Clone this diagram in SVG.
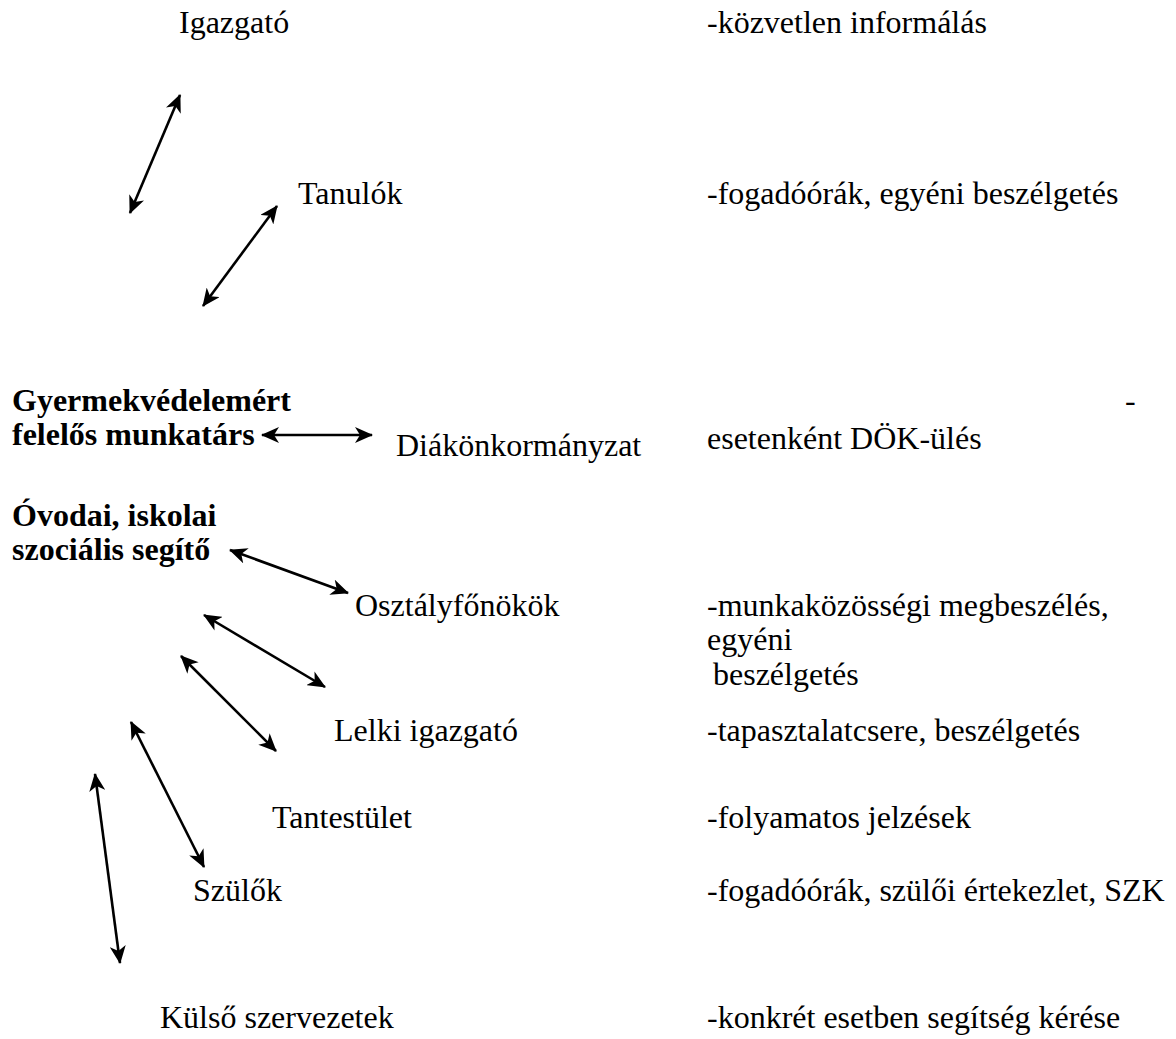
<svg xmlns="http://www.w3.org/2000/svg" width="1176" height="1039" viewBox="0 0 1176 1039">
<style>
text{font-family:"Liberation Serif","Times New Roman",serif;font-size:32px;fill:#000}
.b{font-weight:bold}
.c{stroke:#000;stroke-width:2.6;fill:none;marker-start:url(#ah);marker-end:url(#ah)}
</style>
<defs>
<marker id="ah" viewBox="0 0 18 16" refX="17" refY="8" markerWidth="18" markerHeight="16" markerUnits="userSpaceOnUse" orient="auto-start-reverse">
<path d="M0,0 L18,8 L0,16 L5,8 Z" fill="#000"/>
</marker>
</defs>
<rect width="1176" height="1039" fill="#fff"/>
<g id="connectors">
<line class="c" x1="180" y1="95" x2="130" y2="213"/>
<line class="c" x1="277" y1="206" x2="203" y2="306"/>
<line class="c" x1="262" y1="435" x2="372" y2="435"/>
<line class="c" x1="230" y1="550" x2="348" y2="593"/>
<line class="c" x1="204" y1="615" x2="325" y2="687"/>
<line class="c" x1="181" y1="656" x2="276" y2="751"/>
<line class="c" x1="131" y1="722" x2="204" y2="867"/>
<line class="c" x1="95" y1="774" x2="120" y2="963"/>
</g>
<g id="n-igazgato"><text x="179" y="33">Igazgató</text></g>
<g id="n-tanulok"><text x="298" y="204">Tanulók</text></g>
<g id="n-gyermekvedelem"><text class="b" x="12" y="411">Gyermekvédelemért</text><text class="b" x="12" y="445">felelős munkatárs</text></g>
<g id="n-diak"><text x="396" y="456">Diákönkormányzat</text></g>
<g id="n-szocialis"><text class="b" x="12" y="526">Óvodai, iskolai</text><text class="b" x="12" y="560">szociális segítő</text></g>
<g id="n-osztalyfonokok"><text x="355" y="616">Osztályfőnökök</text></g>
<g id="n-lelki"><text x="334" y="741">Lelki igazgató</text></g>
<g id="n-tantestulet"><text x="272" y="828">Tantestület</text></g>
<g id="n-szulok"><text x="193" y="901">Szülők</text></g>
<g id="n-kulso"><text x="160" y="1028">Külső szervezetek</text></g>
<g id="notes">
<text x="707" y="33">-közvetlen informálás</text>
<text x="707" y="204">-fogadóórák, egyéni beszélgetés</text>
<text x="1125" y="411">-</text>
<text x="707" y="449">esetenként DÖK-ülés</text>
<text x="707" y="616">-munkaközösségi megbeszélés,</text>
<text x="707" y="650">egyéni</text>
<text x="713" y="685">beszélgetés</text>
<text x="707" y="741">-tapasztalatcsere, beszélgetés</text>
<text x="707" y="828">-folyamatos jelzések</text>
<text x="707" y="901">-fogadóórák, szülői értekezlet, SZK</text>
<text x="707" y="1028">-konkrét esetben segítség kérése</text>
</g>
</svg>
